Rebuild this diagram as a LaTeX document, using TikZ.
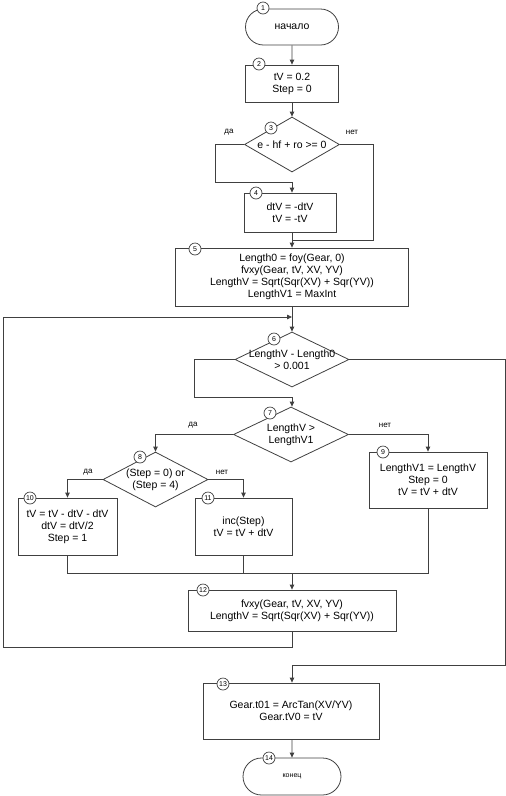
\documentclass[tikz,border=0pt]{standalone}
\usepackage{fontspec}
\setmainfont{Liberation Sans}
\usetikzlibrary{shapes.geometric,shapes.misc,arrows.meta}

\tikzset{
  line/.style={draw=black!75,line width=0.8pt},
  arr/.style={line,-{Triangle[length=5pt,width=4.5pt]}},
  block/.style={rectangle,draw=black!75,line width=0.8pt,fill=white,align=center,
    inner sep=0pt,font=\fontsize{10.5}{12}\selectfont},
  term/.style={rounded rectangle,draw=black!75,line width=0.8pt,fill=white,inner sep=0pt},
  cond/.style={diamond,draw=black!75,line width=0.8pt,fill=white,inner sep=0pt},
  condtext/.style={align=center,inner sep=0pt,font=\fontsize{10.5}{12}\selectfont},
  answer/.style={inner sep=0pt,font=\fontsize{8}{8}\selectfont},
  num/.style={circle,draw=black!75,line width=0.7pt,fill=white,inner sep=0pt,
    minimum size=12pt,font=\fontsize{7}{7}\selectfont}
}

\begin{document}
\begin{tikzpicture}[x=1pt,y=-1pt]
\useasboundingbox (0,0) rectangle (506,796);

% Bloecke
\node[term,minimum width=93pt,minimum height=36pt,font=\fontsize{10.5}{12}\selectfont] (start) at (292,27) {начало};
\node[block,minimum width=93pt,minimum height=37pt] (init) at (292,83.5) {tV = 0.2\\Step = 0};
\node[cond,minimum width=95pt,minimum height=55pt] (q3) at (292,144.5) {};
\node[condtext] (t3) at (q3) {e - hf + ro >= 0};
\node[block,minimum width=92pt,minimum height=39pt] (swap) at (290,212.5) {dtV = -dtV\\tV = -tV};
\node[block,minimum width=233pt,minimum height=58pt] (calc0) at (292,277) {Length0 = foy(Gear, 0)\\fvxy(Gear, tV, XV, YV)\\LengthV = Sqrt(Sqr(XV) + Sqr(YV))\\LengthV1 = MaxInt};
\node[cond,minimum width=114pt,minimum height=55pt] (q6) at (292,359.5) {};
\node[condtext] (t6) at (q6) {LengthV - Length0\\> 0.001};
\node[cond,minimum width=115pt,minimum height=55pt] (q7) at (291,434.5) {};
\node[condtext] (t7) at (q7) {LengthV >\\LengthV1};
\node[cond,minimum width=105pt,minimum height=55pt] (q8) at (155.5,479.5) {};
\node[condtext] (t8) at (q8) {(Step = 0) or\\(Step = 4)};
\node[block,minimum width=118pt,minimum height=56pt] (upd) at (428,480) {LengthV1 = LengthV\\Step = 0\\tV = tV + dtV};
\node[block,minimum width=99pt,minimum height=57pt] (half) at (67.5,526.5) {tV = tV - dtV - dtV\\dtV = dtV/2\\Step = 1};
\node[block,minimum width=97pt,minimum height=57pt] (incr) at (243.5,526.5) {inc(Step)\\tV = tV + dtV};
\node[block,minimum width=208pt,minimum height=41pt] (len) at (292,610.5) {fvxy(Gear, tV, XV, YV)\\LengthV = Sqrt(Sqr(XV) + Sqr(YV))};
\node[block,minimum width=176pt,minimum height=56pt] (fin) at (291,711) {Gear.t01 = ArcTan(XV/YV)\\Gear.tV0 = tV};
\node[term,minimum width=98pt,minimum height=37pt,font=\fontsize{7}{8}\selectfont] (stop) at (292,776.5) {конец};

% Verbindungen
\draw[arr] (start) -- (init);
\draw[arr] (init) -- (q3);
\coordinate (j4) at (292,182);
\draw[line] (q3.west) -- ++(-29,0) |- (j4);
\draw[arr] (j4) -- (swap.north -| j4);
\coordinate (j5) at (292,240);
\draw[line] (swap.south -| j5) -- (j5);
\draw[line] (q3.east) -- ++(33,0) |- (j5);
\draw[arr] (j5) -- (calc0);
\coordinate (j6) at (292,317);
\draw[line] (calc0) -- (j6);
\draw[arr] (j6) -- (q6);
\coordinate (j7) at (292,397);
\draw[line] (q6.west) -- ++(-40,0) |- (j7);
\draw[arr] (j7) -- (q7.north -| j7);
\coordinate (j13) at (292,665);
\draw[line] (q6.east) -- ++(156,0) |- (j13);
\draw[arr] (j13) -- (fin.north -| j13);
\draw[arr] (q7.west) -| (q8.north);
\draw[arr] (q7.east) -| (upd.north);
\draw[arr] (q8.west) -| (half.north);
\draw[arr] (q8.east) -| (incr.north);
\coordinate (j12) at (292,573);
\draw[line] (half.south) |- (j12);
\draw[line] (incr.south) |- (j12);
\draw[line] (upd.south) |- (j12);
\draw[arr] (j12) -- (len);
\draw[arr] (len.south) -- ++(0,16) -| (3,317) -- (j6);
\draw[arr] (fin.south -| stop) -- (stop);

% Antworten
\node[answer] (y3) at (229,132) {да};
\node[answer] (n3) at (352,132) {нет};
\node[answer] (y7) at (193,425) {да};
\node[answer] (n7) at (385,425) {нет};
\node[answer] (y8) at (88,472) {да};
\node[answer] (n8) at (222,472) {нет};

% Nummern
\foreach \k/\x/\y in {1/263/8, 2/259/64, 3/271/128, 4/256/193, 5/195/249, 6/274/339,
    7/270/413, 8/140/457, 9/383/452, 10/30/498, 11/208/498, 12/203/590, 13/223/684, 14/269/758} {
  \node[num] (c\k) at (\x,\y) {\k};
}

\end{tikzpicture}
\end{document}
